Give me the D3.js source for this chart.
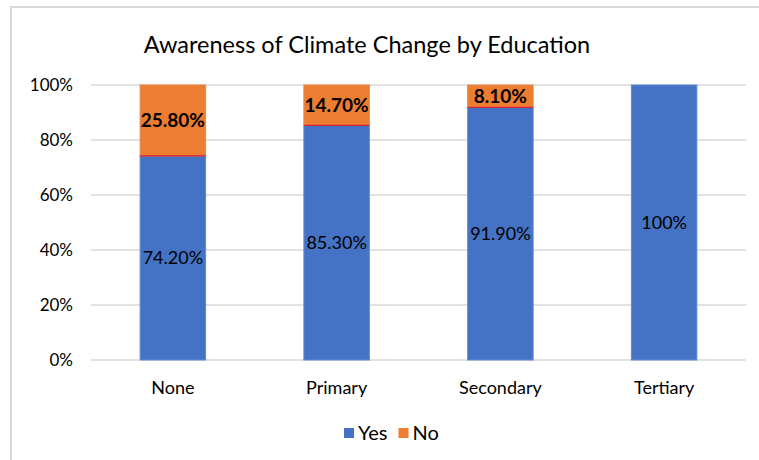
<!DOCTYPE html>
<html>
<head>
<meta charset="utf-8">
<script src="https://cdn.jsdelivr.net/npm/d3@7/dist/d3.min.js"></script>
<style>
  html, body { margin: 0; padding: 0; background: #fff; }
  svg { display: block; font-family: Lato, "Open Sans", sans-serif; }
</style>
</head>
<body>
<svg id="chart" width="759" height="460"></svg>
<script>
// Share of respondents aware of climate change, by education level
const categories = ["None", "Primary", "Secondary", "Tertiary"];
const yesValues = [0.742, 0.853, 0.919, 1.0];
const noValues = [0.258, 0.147, 0.081, 0.0];
const yTicks = [0, 0.2, 0.4, 0.6, 0.8, 1.0];
const seriesNames = ["Yes", "No"];

const colors = { Yes: "#4472C4", No: "#ED7D31" };
const width = 759, height = 460;
const margin = { top: 85, right: 13, bottom: 100, left: 91 };

const svg = d3.select("#chart");

// outer frame
svg.append("rect")
  .attr("x", 11).attr("y", 7)
  .attr("width", width + 10).attr("height", height + 10)
  .attr("fill", "#fff")
  .attr("stroke", "#d9d9d9").attr("stroke-width", 2);

const x = d3.scaleBand()
  .domain(categories)
  .range([margin.left, width - margin.right])
  .paddingInner(0.6)
  .paddingOuter(0.3);

const y = d3.scaleLinear()
  .domain([0, 1])
  .range([height - margin.bottom, margin.top]);

// gridlines
svg.append("g")
  .selectAll("line")
  .data(yTicks)
  .join("line")
  .attr("x1", margin.left).attr("x2", width - margin.right)
  .attr("y1", d => y(d)).attr("y2", d => y(d))
  .attr("stroke", "#d9d9d9").attr("stroke-width", 1.5);

// y axis labels
const yAxis = d3.axisLeft(y)
  .tickValues(yTicks)
  .tickFormat(d3.format(".0%"))
  .tickSize(0)
  .tickPadding(18);
const yg = svg.append("g")
  .attr("transform", `translate(${margin.left},0)`)
  .call(yAxis);
yg.select(".domain").remove();
yg.selectAll("text")
  .attr("fill", "#000")
  .style("font-size", "17px")
  .style("font-family", "Lato, sans-serif");

// x axis labels
const xAxis = d3.axisBottom(x).tickSize(0).tickPadding(21);
const xg = svg.append("g")
  .attr("transform", `translate(0,${y(0)})`)
  .call(xAxis);
xg.select(".domain").remove();
xg.selectAll("text")
  .attr("fill", "#000")
  .style("font-size", "18px")
  .style("font-family", "Lato, sans-serif");

// stacked data
const rows = categories.map((c, i) => ({ category: c, Yes: yesValues[i], No: noValues[i] }));
const stacked = d3.stack().keys(seriesNames)(rows);

const fmt = v => (v >= 1 ? d3.format(".0%")(v) : d3.format(".2%")(v));

const layers = svg.append("g")
  .selectAll("g")
  .data(stacked)
  .join("g")
  .attr("fill", d => colors[d.key]);

layers.selectAll("rect")
  .data(d => d.filter(s => s[1] - s[0] > 0))
  .join("rect")
  .attr("x", d => x(d.data.category))
  .attr("width", x.bandwidth())
  .attr("y", d => y(d[1]))
  .attr("height", d => y(d[0]) - y(d[1]))
  .attr("stroke", function () {
    return d3.select(this.parentNode).datum().key === "Yes" ? "#5f8ad6" : "#e8874a";
  })
  .attr("stroke-width", 1);

// thin seam where the two segments meet
svg.append("g")
  .selectAll("line")
  .data(rows.filter(r => r.No > 0))
  .join("line")
  .attr("x1", d => x(d.category))
  .attr("x2", d => x(d.category) + x.bandwidth())
  .attr("y1", d => y(d.Yes))
  .attr("y2", d => y(d.Yes))
  .attr("stroke", "#d4213c")
  .attr("stroke-width", 1.3);

// value labels
layers.each(function (layer) {
  const isNo = layer.key === "No";
  d3.select(this).selectAll("text")
    .data(layer.filter(s => s[1] - s[0] > 0))
    .join("text")
    .attr("x", d => x(d.data.category) + x.bandwidth() / 2)
    .attr("y", d => (y(d[0]) + y(d[1])) / 2)
    .attr("dy", "0.36em")
    .attr("text-anchor", "middle")
    .attr("fill", "#000")
    .style("font-size", isNo ? "19px" : "18px")
    .style("font-weight", isNo ? "700" : "400")
    .text(d => fmt(d[1] - d[0]));
});

// title
svg.append("text")
  .attr("x", 367).attr("y", 45)
  .attr("dy", "0.35em")
  .attr("text-anchor", "middle")
  .attr("fill", "#000")
  .style("font-size", "23.5px")
  .text("Awareness of Climate Change by Education");

// legend
const legend = svg.append("g").attr("transform", "translate(344,433)");
let lx = 0;
seriesNames.forEach(name => {
  const item = legend.append("g").attr("transform", `translate(${lx},0)`);
  item.append("rect")
    .attr("x", 0).attr("y", -5)
    .attr("width", 10).attr("height", 10)
    .attr("fill", colors[name]);
  const t = item.append("text")
    .attr("x", 14).attr("y", 0)
    .attr("dy", "0.36em")
    .attr("fill", "#000")
    .style("font-size", "20px")
    .text(name);
  lx += 14 + t.node().getComputedTextLength() + 11;
});
</script>
</body>
</html>
